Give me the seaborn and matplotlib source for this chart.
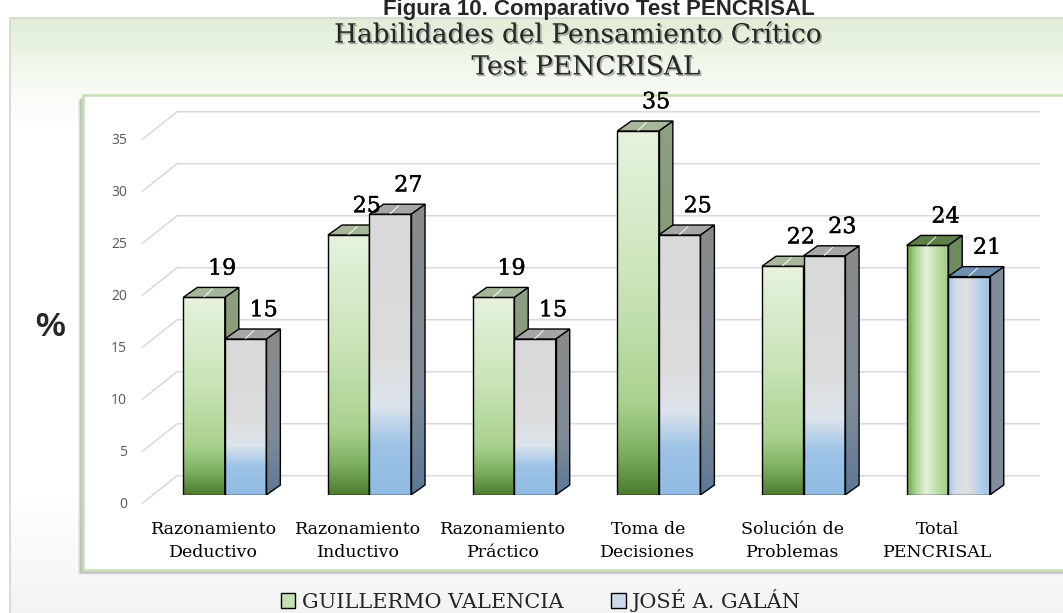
import numpy as np
import pandas as pd
import matplotlib
matplotlib.use("Agg")
import matplotlib.pyplot as plt
import matplotlib.patheffects as pe
from matplotlib.colors import LinearSegmentedColormap
from matplotlib.patches import Polygon, Rectangle, Patch
from matplotlib.transforms import ScaledTranslation
import seaborn as sns

# ---- data ----
categories = ["Razonamiento\nDeductivo", "Razonamiento\nInductivo", "Razonamiento\nPráctico",
              "Toma de\nDecisiones", "Solución de\nProblemas", "Total\nPENCRISAL"]
guillermo = [19, 25, 19, 35, 22, 24]
jose = [15, 27, 15, 25, 23, 21]
series_names = ["GUILLERMO VALENCIA", "JOSÉ A. GALÁN"]
y_ticks = [0, 5, 10, 15, 20, 25, 30, 35]

W, H, DPI = 1063, 613, 100

sns.set_theme(style="white")
plt.rcParams["font.family"] = ["DejaVu Serif"]

fig = plt.figure(figsize=(W / DPI, H / DPI), dpi=DPI)
fig.patch.set_facecolor("white")


def ramp(colors, positions, n=256):
    cmap = LinearSegmentedColormap.from_list("r", list(zip(positions, colors)))
    return cmap(np.linspace(0, 1, n))


# ---- chart area background and plot-area frame (pixel coordinates) ----
bg = fig.add_axes([0, 0, 1, 1], zorder=-10)
bg.set_xlim(0, W)
bg.set_ylim(H, 0)
bg.axis("off")
chart_bg = ramp(["#e0edd6", "#f5faf1", "#ffffff", "#ffffff", "#f3f3f3"],
                [0.0, 0.1, 0.18, 0.8, 1.0])[:, None, :]
bg.imshow(chart_bg, extent=(10, W + 5, H + 5, 18), origin="upper", aspect="auto",
          interpolation="bilinear", zorder=0)
bg.plot([10, 10, W + 5], [H + 5, 18, 18], color="#d4d4d4", lw=1.2, zorder=1)
for off, a in [(5, 0.06), (4, 0.08), (3, 0.10)]:
    bg.add_patch(Rectangle((83 - off, 95 + off), W, 475, facecolor="black",
                           edgecolor="none", alpha=a, zorder=2))
bg.add_patch(Rectangle((83, 95), W, 475, facecolor="white", edgecolor="#c5e0b4",
                       lw=1.8, zorder=3))

# ---- main axes ----
PX_PER_UNIT = 10.4
ax = fig.add_axes([138 / W, 1 - 495 / H, (1035 - 138) / W, 37 * PX_PER_UNIT / H])
ax.patch.set_alpha(0)

df = pd.DataFrame({
    "cat": categories * 2,
    "value": guillermo + jose,
    "person": [series_names[0]] * len(categories) + [series_names[1]] * len(categories),
})
sns.barplot(data=df, x="cat", y="value", hue="person", order=categories,
            hue_order=series_names, palette=["#c5e0b4", "#dbe5f1"], width=0.574,
            gap=0, dodge=True, legend=False, errorbar=None, edgecolor="black",
            linewidth=1.0, ax=ax)
ax.set_xlim(-0.6, 5.6)
ax.set_ylim(0, 37)
sns.despine(ax=ax, left=True, bottom=True)
ax.set_xlabel("")
ax.set_ylabel("")

# back-wall gridlines with the perspective step at the left
for v in y_ticks:
    ax.plot([-0.57, -0.33, 5.63], [v - 0.8, v + 1.85, v + 1.85], color="#d9d9d9",
            lw=1.1, zorder=1, clip_on=False)

# 3D bar styling
DX, DY = 0.097, 0.96
styles = [
    dict(front=(["#4d7c30", "#7fb062", "#a9d18e", "#c8e3b6", "#e6f3de"], [0, 0.12, 0.25, 0.55, 1]),
         side=(["#4a6b36", "#7d9470", "#8ea082"], [0, 0.3, 1]),
         top="#a5b69b",
         tfront=(["#6aa548", "#a9d18e", "#e4f2dc", "#b9dba3", "#a2cd85"], [0, 0.2, 0.45, 0.75, 1]),
         tside="#6e8a5f", ttop="#5e7f48"),
    dict(front=(["#90bbe3", "#9dc3e6", "#dde4ec", "#dcdcdc", "#d9d9d9"], [0, 0.18, 0.32, 0.5, 1]),
         side=(["#5d7895", "#7e8b98", "#8a8a8a"], [0, 0.35, 1]),
         top="#a6a6a6",
         tfront=(["#a3c6e8", "#d4dde6", "#e0e0e0", "#b9d0e8", "#9dc3e6"], [0, 0.2, 0.45, 0.75, 1]),
         tside="#7f8c99", ttop="#6f8fb0"),
]

label_fx = [pe.withStroke(linewidth=0.3, foreground="black")]
values = [guillermo, jose]
for si, cont in enumerate(ax.containers):
    z = 3 + si
    st = styles[si]
    for ci, bar in enumerate(cont.patches):
        x0, w, h = bar.get_x(), bar.get_width(), bar.get_height()
        x1 = x0 + w
        total = ci == len(categories) - 1
        bar.set_facecolor("none")
        bar.set_zorder(z + 0.5)

        # front face gradient
        if total:
            arr = ramp(*st["tfront"])[None, :, :]
        else:
            arr = ramp(*st["front"])[:, None, :]
        im = ax.imshow(arr, extent=(x0, x1, 0, h), origin="lower", aspect="auto",
                       interpolation="bilinear", zorder=z)
        im.set_clip_path(bar)

        # side face
        side = Polygon([(x1, 0), (x1 + DX, DY), (x1 + DX, h + DY), (x1, h)], closed=True,
                       facecolor="none", edgecolor="black", lw=1.0, zorder=z + 0.5)
        ax.add_patch(side)
        if total:
            sarr = ramp([st["tside"], st["tside"]], [0, 1])[:, None, :]
        else:
            sarr = ramp(*st["side"])[:, None, :]
        sim = ax.imshow(sarr, extent=(x1, x1 + DX, 0, h + DY), origin="lower", aspect="auto",
                        interpolation="bilinear", zorder=z)
        sim.set_clip_path(side)

        # top face
        ax.add_patch(Polygon([(x0, h), (x0 + DX, h + DY), (x1 + DX, h + DY), (x1, h)],
                             closed=True, facecolor=st["ttop"] if total else st["top"],
                             edgecolor="black", lw=1.0, zorder=z + 0.5))
        cx = x0 + w / 2
        ax.plot([cx, cx + DX * 0.6], [h + 0.05, h + DY * 0.85], color="white", lw=0.8,
                alpha=0.85, zorder=z + 0.6)

        # value label
        ax.text(cx + 0.125, h + DY + 0.75, f"{values[si][ci]}", ha="center", va="bottom",
                fontsize=16, family="DejaVu Serif", color="black", zorder=10,
                path_effects=label_fx)

ax.set_xlim(-0.6, 5.6)
ax.set_ylim(0, 37)

# axis ticks
ax.set_yticks(y_ticks)
ax.set_yticklabels([str(t) for t in y_ticks])
ax.tick_params(axis="y", length=0, pad=8, labelsize=10, labelcolor="#595959")
for lab in ax.get_yticklabels():
    lab.set_fontfamily("Open Sans")
    lab.set_transform(lab.get_transform() + ScaledTranslation(0, -0.08, fig.dpi_scale_trans))

ax.set_xticks(range(len(categories)))
ax.set_xticklabels(categories)
ax.tick_params(axis="x", length=0, pad=19, labelsize=12.5, labelcolor="black")
for lab in ax.get_xticklabels():
    lab.set_fontfamily("DejaVu Serif")
    lab.set_linespacing(1.45)
    lab.set_transform(lab.get_transform() + ScaledTranslation(-0.11, 0, fig.dpi_scale_trans))
ax.grid(False)

# texts
shadow = [pe.SimplePatchShadow(offset=(1.2, -1.2), shadow_rgbFace="#555555", alpha=0.45),
          pe.Normal()]
fig.text(599 / W, 1 - 15 / H, "Figura 10. Comparativo Test PENCRISAL", ha="center",
         va="baseline", fontsize=16, fontweight="bold", family="Liberation Sans")
fig.text(578 / W, 1 - 35 / H, "Habilidades del Pensamiento Crítico", ha="center",
         va="center", fontsize=19, family="DejaVu Serif", path_effects=shadow)
fig.text(586 / W, 1 - 67 / H, "Test PENCRISAL", ha="center", va="center", fontsize=19,
         family="DejaVu Serif", path_effects=shadow)
fig.text(50 / W, 1 - 328 / H, "%", ha="center", va="center", fontsize=24,
         fontweight="bold", family="Liberation Sans")

# legend
handles = [Patch(facecolor="#c5e0b4", edgecolor="black", lw=1.0),
           Patch(facecolor="#cbdaea", edgecolor="black", lw=1.0)]
fig.legend(handles, series_names, loc="center", bbox_to_anchor=(541 / W, 1 - 600 / H),
           ncol=2, frameon=False, prop={"family": "DejaVu Serif", "size": 15},
           handlelength=0.7, handleheight=0.7, handletextpad=0.3, columnspacing=2.3,
           borderpad=0)

fig.savefig("out.png", dpi=DPI)
